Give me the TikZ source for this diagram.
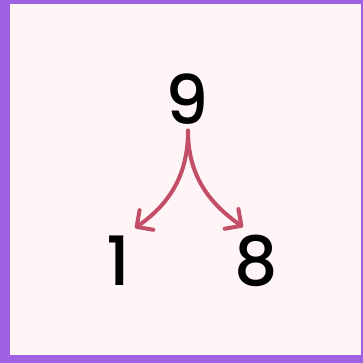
\documentclass[tikz,border=0pt]{standalone}
\usepackage{fontspec}
\setmainfont{Poppins}[UprightFont=* Medium]
\usepackage{xcolor}
\usepackage{tikz}
\usetikzlibrary{arrows.meta,positioning,calc}

\definecolor{frame}{RGB}{160,96,228}
\definecolor{paper}{RGB}{255,245,246}
\definecolor{branch}{RGB}{194,78,104}

\begin{document}
\begin{tikzpicture}[x=1pt, y=1pt, every node/.style={inner sep=0pt, font=\fontsize{68}{68}\selectfont}]
			
			% Frame
			\fill[frame] (0,0) rectangle (363,363);
			\fill[paper] (10,8) rectangle (361,359);
			\useasboundingbox (0,0) rectangle (363,363);
			
			% Numbers
			\node (nine) at (187,264) {9};
			\node (one) at (118,102) {1};
			\node (eight) at (256,102) {8};
			
			% Branches
			\draw[branch, line width=4pt, line cap=round, -{Straight Barb[round, length=12pt, width=24pt]}] ([xshift=1pt, yshift=-6pt]nine.south) to[out=-90, in=35] ([xshift=17pt, yshift=8pt]one.north);
			\draw[branch, line width=4pt, line cap=round, -{Straight Barb[round, length=12pt, width=24pt]}] ([xshift=1pt, yshift=-6pt]nine.south) to[out=-90, in=145] ([xshift=-13pt, yshift=8pt]eight.north);
			
		\end{tikzpicture}
\end{document}
